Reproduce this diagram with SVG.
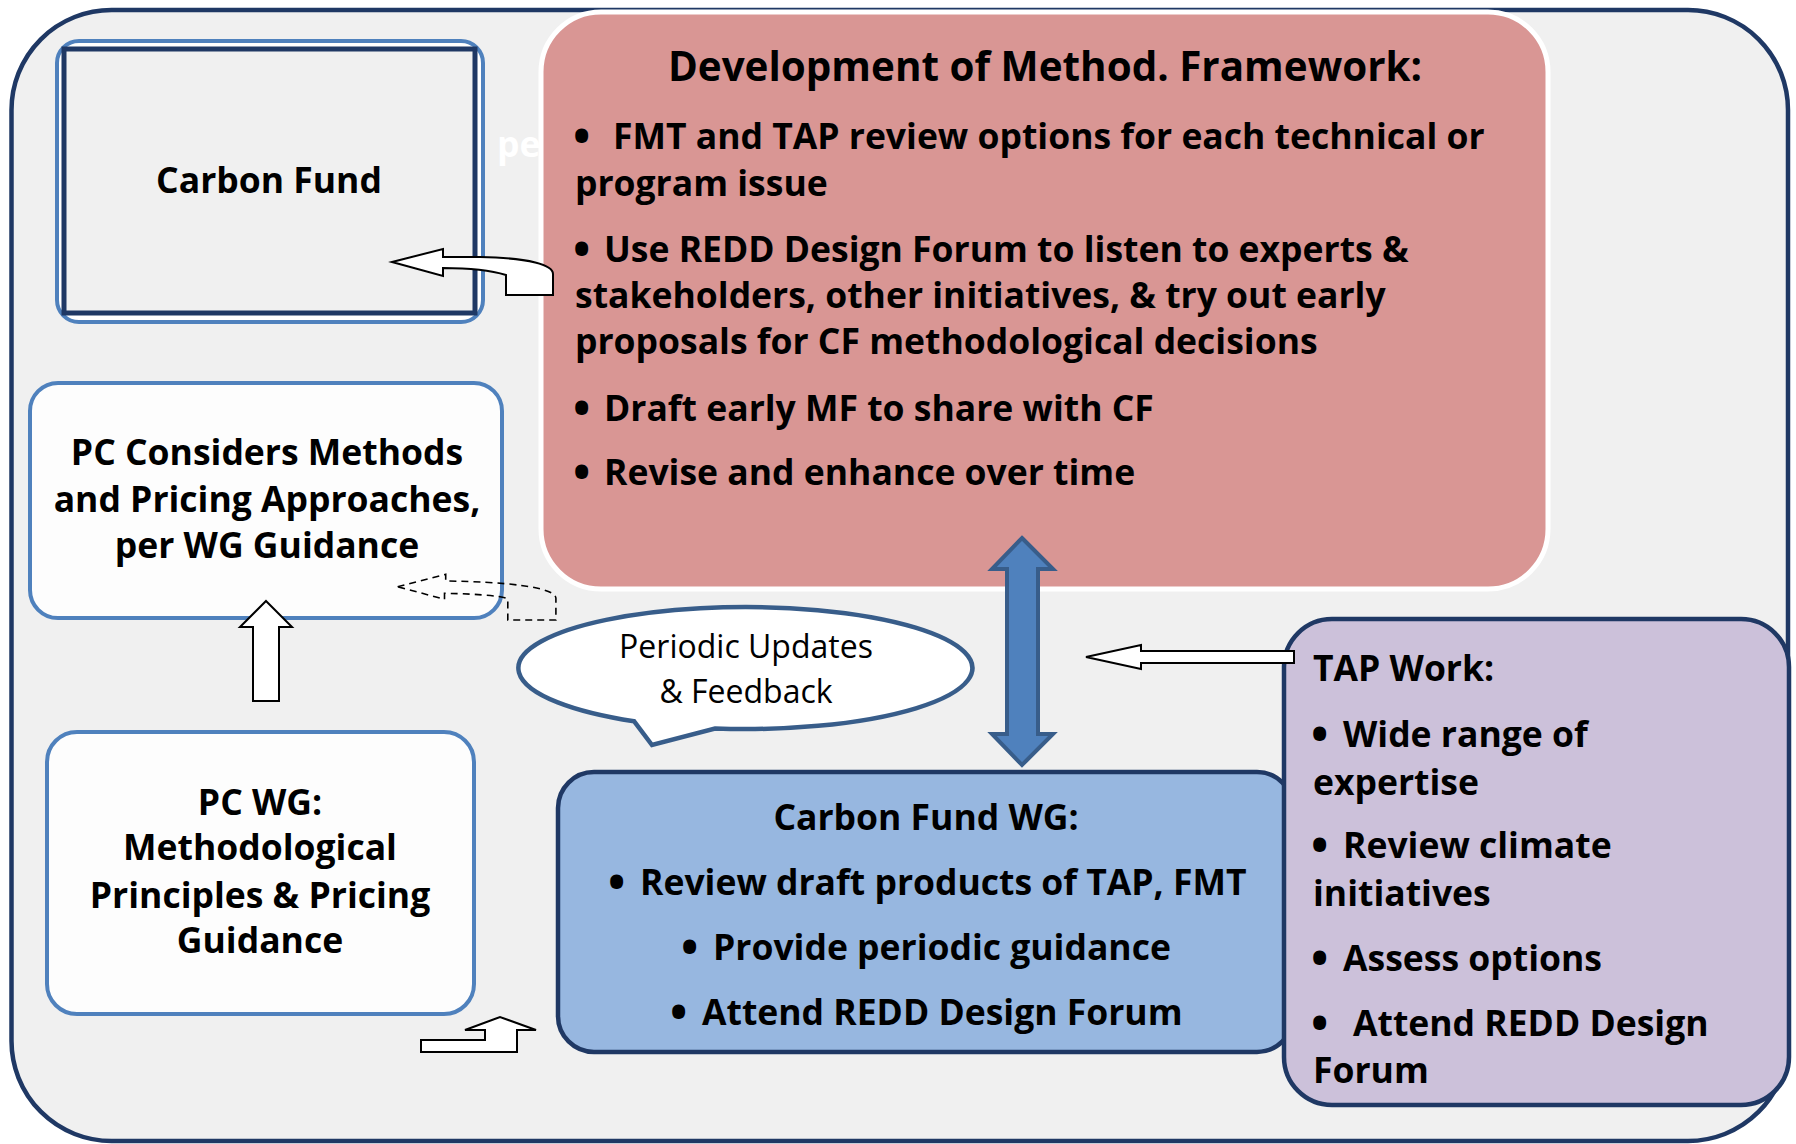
<svg xmlns="http://www.w3.org/2000/svg" width="1796" height="1144" viewBox="0 0 1796 1144">
<style>
.b{font-family:"Open Sans","Noto Sans","Liberation Sans",sans-serif;font-weight:bold;font-size:35.5px;fill:#000}
.t{font-size:40.4px}
.u{font-family:"Open Sans","Noto Sans","Liberation Sans",sans-serif;font-weight:bold;font-size:46px;fill:#000}
.r{font-family:"Open Sans","Noto Sans","Liberation Sans",sans-serif;font-size:32px;fill:#000}
.m{text-anchor:middle}
.arr{fill:#fff;stroke:#000;stroke-width:2;stroke-linejoin:miter}
</style>
<rect x="0" y="0" width="1796" height="1144" fill="#fff"/>
<g id="frame">
<rect x="11.5" y="10" width="1776.5" height="1131" rx="100" fill="#f0f0f0" stroke="#1f3864" stroke-width="4.5"/>
</g>
<g id="carbon-fund">
<rect x="57" y="41" width="426" height="281" rx="22" fill="#fff" stroke="#4f81bd" stroke-width="4"/>
<rect x="64" y="49" width="411" height="264" fill="#f0f0f0" stroke="#1f3864" stroke-width="5"/>
<text class="b m" x="269" y="193">Carbon Fund</text>
</g>
<text class="b" x="497" y="157" style="fill:#fff">pe</text>
<g id="method-framework">
<rect x="541" y="12" width="1007" height="577" rx="60" fill="#d99694" stroke="#fff" stroke-width="5"/>
<text class="b t m" x="1045" y="81">Development of Method. Framework:</text>
<text class="u" x="573" y="153">•</text><text class="b" x="613" y="149">FMT and TAP review options for each technical or</text>
<text class="b" x="575" y="196">program issue</text>
<text class="u" x="573" y="266">•</text><text class="b" x="604" y="262">Use REDD Design Forum to listen to experts &amp;</text>
<text class="b" x="575" y="308">stakeholders, other initiatives, &amp; try out early</text>
<text class="b" x="575" y="354">proposals for CF methodological decisions</text>
<text class="u" x="573" y="425">•</text><text class="b" x="604" y="421">Draft early MF to share with CF</text>
<text class="u" x="573" y="489">•</text><text class="b" x="604" y="485">Revise and enhance over time</text>
</g>
<g id="pc-considers">
<rect x="30" y="383" width="472" height="235" rx="28" fill="#fdfdfd" stroke="#4f81bd" stroke-width="4"/>
<text class="b m" x="267" y="465">PC Considers Methods</text>
<text class="b m" x="267" y="512">and Pricing Approaches,</text>
<text class="b m" x="267" y="558">per WG Guidance</text>
</g>
<g id="pc-wg">
<rect x="47" y="732" width="427" height="282" rx="30" fill="#fdfdfd" stroke="#4f81bd" stroke-width="4"/>
<text class="b m" x="260" y="815">PC WG:</text>
<text class="b m" x="260" y="860">Methodological</text>
<text class="b m" x="260" y="908">Principles &amp; Pricing</text>
<text class="b m" x="260" y="953">Guidance</text>
</g>
<g id="carbon-fund-wg">
<rect x="558" y="772" width="735" height="280" rx="36" fill="#97b7e0" stroke="#1f3864" stroke-width="4.5"/>
<text class="b m" x="926" y="830">Carbon Fund WG:</text>
<text class="u" x="608" y="899">•</text><text class="b" x="640" y="895">Review draft products of TAP, FMT</text>
<text class="u" x="681" y="964">•</text><text class="b" x="713" y="960">Provide periodic guidance</text>
<text class="u" x="670" y="1029">•</text><text class="b" x="702" y="1025">Attend REDD Design Forum</text>
</g>
<g id="tap-work">
<rect x="1284" y="619" width="505" height="486" rx="48" fill="#ccc1da" stroke="#1f3864" stroke-width="4.5"/>
<text class="b" x="1313" y="681">TAP Work:</text>
<text class="u" x="1311" y="751">•</text><text class="b" x="1343" y="747">Wide range of</text>
<text class="b" x="1313" y="795">expertise</text>
<text class="u" x="1311" y="862">•</text><text class="b" x="1343" y="858">Review climate</text>
<text class="b" x="1313" y="906">initiatives</text>
<text class="u" x="1311" y="975">•</text><text class="b" x="1343" y="971">Assess options</text>
<text class="u" x="1311" y="1040">•</text><text class="b" x="1353" y="1036">Attend REDD Design</text>
<text class="b" x="1313" y="1083">Forum</text>
</g>
<g id="callout">
<path d="M634,721.2 L652,745 L715,728.5 A227,61 0 1 0 634,721.2 Z" fill="#fff" stroke="#385d8a" stroke-width="4.5" stroke-linejoin="miter"/>
<text class="r m" x="746" y="658">Periodic Updates</text>
<text class="r m" x="746" y="703">&amp; Feedback</text>
</g>
<g id="connectors">
<path class="arr" d="M392,262 L443,249 L443,257 L480,257 C530,258 553,265 553,274 L553,295 L506,295 L506,275 C490,270 470,268 443,268 L443,276 Z"/>
<path d="M397.6,586.7 L445.7,574.3 L445.7,581 C502.9,581.7 555.9,586.7 555.9,598.3 L555.9,620 L507.8,620 L507.8,599.3 C507.8,596.7 482.4,594 444.5,593.3 L444.5,599.3 Z" fill="none" stroke="#000" stroke-width="1.6" stroke-dasharray="7 5"/>
<path class="arr" d="M266,601 L292,627 L279,627 L279,701 L253,701 L253,627 L240,627 Z"/>
<path class="arr" d="M421,1040 L485,1040 L485,1030 L465,1030 L500,1017 L536,1030 L517,1030 L517,1052 L421,1052 Z"/>
<path class="arr" d="M1086,657 L1141,645 L1141,651 L1294,651 L1294,663 L1141,663 L1141,669 Z"/>
<path d="M1022,538 L1053,569 L1038,569 L1038,734 L1053,734 L1022,765 L992,734 L1007,734 L1007,569 L992,569 Z" fill="#4f81bd" stroke="#385d8a" stroke-width="4" stroke-linejoin="miter"/>
</g>
</svg>
